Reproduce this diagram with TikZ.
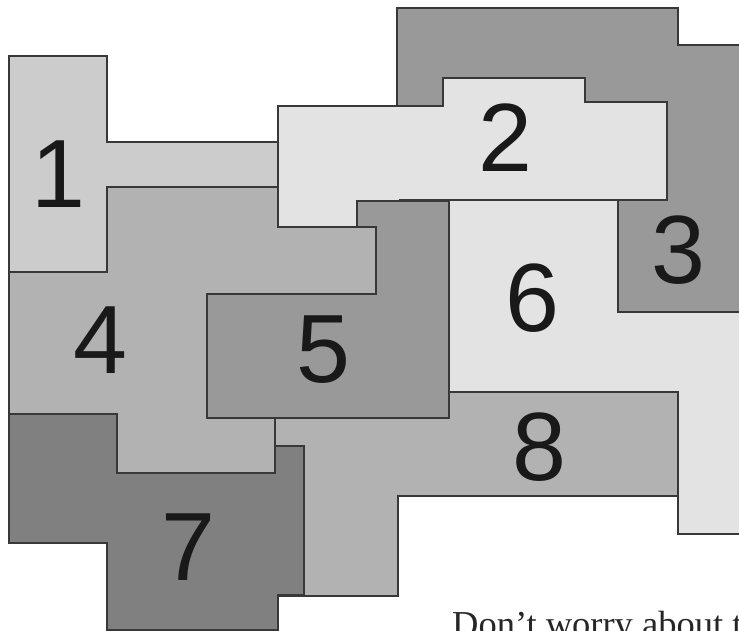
\documentclass[tikz,border=0pt]{standalone}
\usepackage{fontspec}
\setmainfont{Liberation Serif}
\newfontfamily\digitfont{Liberation Sans}
\begin{document}
\begin{tikzpicture}
[
    x=1pt, y=-1pt,
    piece/.style={draw=black!78, line width=1.2pt, line join=miter},
    num/.style={inner sep=0pt, font=\digitfont\fontsize{97}{97}\selectfont, text=black!90}
]
    \useasboundingbox (0,0) rectangle (739,631);
    \clip (0,0) rectangle (739,631);
    % pieces, bottom to top
    \draw [piece, fill=black!20] (9,56) -- (107,56) -- (107,142) -- (300,142) -- (300,187)
        -- (107,187) -- (107,272) -- (9,272) -- cycle;
    \draw [piece, fill=black!11] (449,180) -- (700,180) -- (700,312) -- (745,312) -- (745,534)
        -- (678,534) -- (678,450) -- (449,450) -- cycle;
    \draw [piece, fill=black!40] (397,8) -- (678,8) -- (678,45) -- (745,45) -- (745,312)
        -- (618,312) -- (618,150) -- (397,150) -- cycle;
    \draw [piece, fill=black!11] (278,106) -- (443,106) -- (443,78) -- (585,78) -- (585,102)
        -- (667,102) -- (667,200) -- (400,200) -- (400,227) -- (278,227) -- cycle;
    \draw [piece, fill=black!30] (250,380) -- (449,380) -- (449,392) -- (678,392) -- (678,496)
        -- (398,496) -- (398,596) -- (250,596) -- cycle;
    \draw [piece, fill=black!50] (9,400) -- (260,400) -- (260,446) -- (304,446) -- (304,595)
        -- (278,595) -- (278,630) -- (107,630) -- (107,543) -- (9,543) -- cycle;
    \draw [piece, fill=black!30] (107,187) -- (278,187) -- (278,227) -- (376,227) -- (376,350)
        -- (275,350) -- (275,473) -- (117,473) -- (117,414) -- (9,414) -- (9,272) -- (107,272) -- cycle;
    \draw [piece, fill=black!40] (357,201) -- (449,201) -- (449,418) -- (207,418) -- (207,294)
        -- (376,294) -- (376,227) -- (357,227) -- cycle;
    % numbers
    \node [num] (lab1) at (58,174) {1};
    \node [num] (lab2) at (505,138) {2};
    \node [num] (lab3) at (678,250) {3};
    \node [num] (lab4) at (100,340) {4};
    \node [num] (lab5) at (323,350) {5};
    \node [num] (lab6) at (532,298) {6};
    \node [num] (lab7) at (188,547) {7};
    \node [num] (lab8) at (539,447) {8};
    % caption, cut off at the edge
    \node [anchor=base west, inner sep=0pt, font=\fontsize{36.5}{36.5}\selectfont, text=black!85]
        (note) at (452,636) {Don’t worry about t};
\end{tikzpicture}
\end{document}
